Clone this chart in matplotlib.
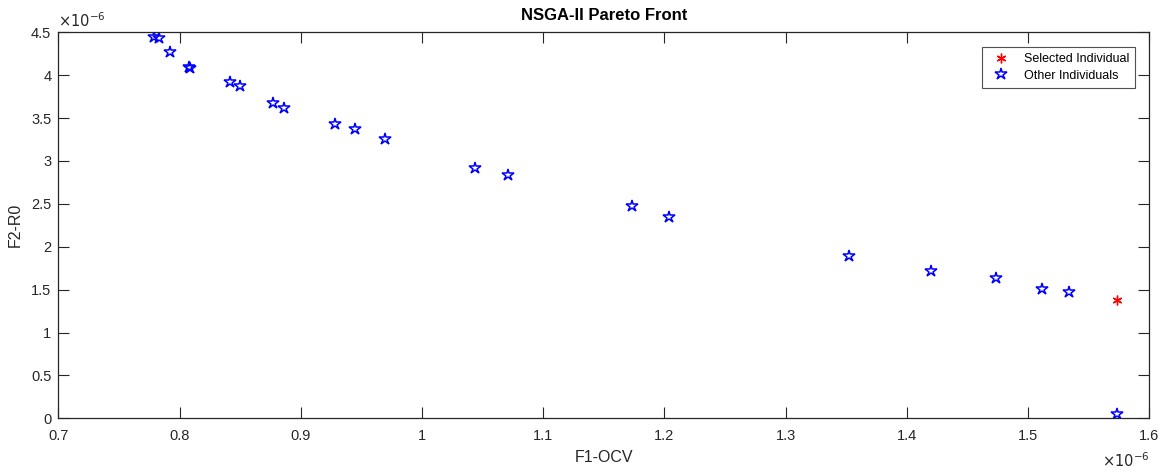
import matplotlib
matplotlib.use("Agg")
from matplotlib import pyplot as plt
from matplotlib.ticker import FuncFormatter, MultipleLocator

plt.rcParams['font.family'] = ['Liberation Sans', 'DejaVu Sans']

# Pareto front points (F1 = OCV error, F2 = R0 error)
f1_other = [0.7792, 0.7828, 0.7921, 0.8078, 0.8089, 0.8416, 0.8496, 0.8769, 0.8864,
            0.9283, 0.9445, 0.9695, 1.0435, 1.0712, 1.1730, 1.2038, 1.3525, 1.4200,
            1.4733, 1.5118, 1.5336, 1.5736]
f2_other = [4.449, 4.433, 4.267, 4.099, 4.084, 3.924, 3.870, 3.679, 3.621,
            3.427, 3.376, 3.259, 2.914, 2.833, 2.475, 2.350, 1.892, 1.714,
            1.639, 1.507, 1.472, 0.047]
f1_selected = [1.5730]
f2_selected = [1.379]
scale = 1e-6

gray = '#262626'

fig = plt.figure(figsize=(11.66, 4.72), dpi=100)
ax = fig.add_axes([0.0500, 0.1138, 0.9357, 0.8178])

ax.plot([v * scale for v in f1_selected], [v * scale for v in f2_selected],
        linestyle='none', marker=(6, 2, 0), color='red', markersize=7,
        markeredgewidth=1.0, label='Selected Individual')
ax.plot([v * scale for v in f1_other], [v * scale for v in f2_other],
        linestyle='none', marker='*', markerfacecolor='none', markeredgecolor='blue',
        markersize=9, markeredgewidth=1.1, label='Other Individuals')

ax.set_xlim(0.7e-6, 1.6e-6)
ax.set_ylim(0, 4.5e-6)
ax.xaxis.set_major_locator(MultipleLocator(0.1e-6))
ax.yaxis.set_major_locator(MultipleLocator(0.5e-6))
fmt = FuncFormatter(lambda v, p: f'{round(v / scale, 6):g}')
ax.xaxis.set_major_formatter(fmt)
ax.yaxis.set_major_formatter(fmt)

ax.tick_params(direction='in', length=8, width=0.8, top=True, right=True,
               labelsize=10.5, colors=gray, labelcolor=gray)
ax.tick_params(axis='x', pad=8)
ax.tick_params(axis='y', pad=5)
for s in ax.spines.values():
    s.set_color(gray)
    s.set_linewidth(0.9)

ax.set_title('NSGA-II Pareto Front', fontsize=12, fontweight='bold', pad=9)
ax.set_xlabel('F1-OCV', fontsize=11.5, color=gray, labelpad=5)
ax.set_ylabel('F2-R0', fontsize=11.5, color=gray, labelpad=6)

ax.text(0.0, 1.005, r'$\times10^{-6}$', transform=ax.transAxes, ha='left', va='bottom',
        fontsize=10.5, color=gray)
ax.text(1.0, -0.085, r'$\times10^{-6}$', transform=ax.transAxes, ha='right', va='top',
        fontsize=10.5, color=gray)

leg = ax.legend(loc='upper right', bbox_to_anchor=(0.987, 0.962), borderaxespad=0,
                fontsize=9, frameon=True, fancybox=False, borderpad=0.5,
                handletextpad=0.8, labelspacing=0.35)
leg.get_frame().set_edgecolor(gray)
leg.get_frame().set_linewidth(0.8)

fig.savefig('out.png', dpi=100)
